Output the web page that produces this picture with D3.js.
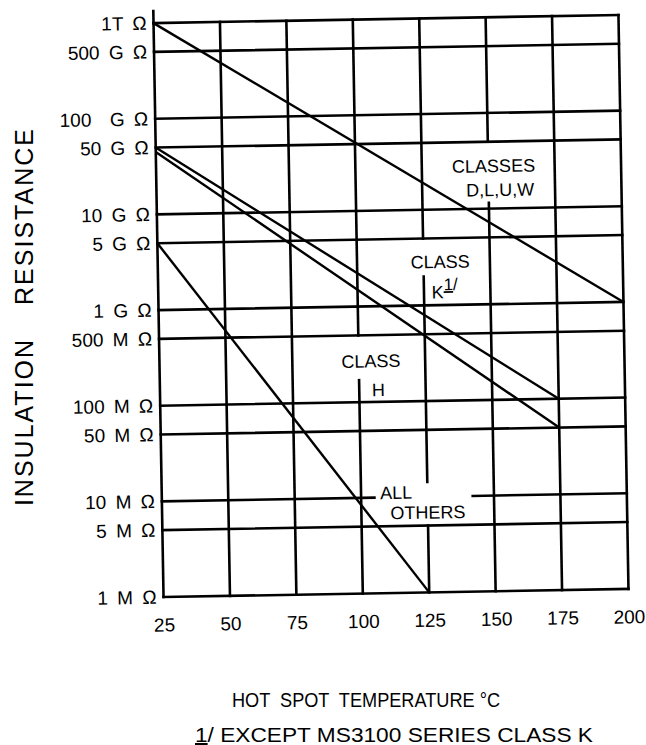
<!DOCTYPE html>
<html>
<head>
<meta charset="utf-8">
<script src="https://cdn.jsdelivr.net/npm/d3@7"></script>
<style>
  body { margin: 0; background: #fff; }
  text { font-family: "Liberation Sans", Arial, sans-serif; fill: #000; }
</style>
</head>
<body>
<script>
// chart values
var tempTicks = [25, 50, 75, 100, 125, 150, 175, 200];
var resTicks = [1e12, 5e11, 1e11, 5e10, 1e10, 5e9, 1e9, 5e8, 1e8, 5e7, 1e7, 5e6, 1e6];
var resTickLabels = ["1T Ω", "500 G Ω", "100  G Ω", "50 G Ω", "10 G Ω", "5 G Ω", "1 G Ω",
  "500 M Ω", "100 M Ω", "50 M Ω", "10 M Ω", "5 M Ω", "1 M Ω"];

// one straight line per class: start and end points
var lineClasses = ["D,L,U,W", "K", "H", "All others"];
var lineTempStart = [25, 25, 25, 25];
var lineTempEnd = [200, 175, 175, 125];
var lineResStart = [1e12, 5e10, 4.5e10, 5e9];
var lineResEnd = [1e9, 1e8, 5e7, 1e6];

// svg params
var svgWidth = 646;
var svgHeight = 745;
var margin = { top: 19, right: 22.5, bottom: 152, left: 158.5 };
var width = svgWidth - margin.left - margin.right;
var height = svgHeight - margin.top - margin.bottom;

var svg = d3.select("body")
  .append("svg")
  .attr("width", svgWidth)
  .attr("height", svgHeight);

// the scan is tilted about one degree
var chartGroup = svg.append("g")
  .attr("transform", `rotate(-1, 391, 306) translate(${margin.left}, ${margin.top})`);

var xScale = d3.scaleLinear().domain([25, 200]).range([0, width]);
var yScale = d3.scaleLog().domain([1e6, 1e12]).range([height, 0]);

// gaps in the grid where the labels sit
var vGaps = { 100: [[1.7e8, 5e8]], 125: [[2e9, 5e9], [5e6, 1.43e7]], 150: [[1.15e10, 5e10]] };
var hGaps = { 10000000: [[105, 142]] };

function cut(lo, hi, gaps) {
  var segs = [];
  var start = lo;
  (gaps || []).slice().sort((a, b) => a[0] - b[0]).forEach(function(g) {
    segs.push([start, g[0]]);
    start = g[1];
  });
  segs.push([start, hi]);
  return segs;
}

var grid = chartGroup.append("g")
  .attr("stroke", "#000")
  .attr("stroke-width", 2.6)
  .attr("stroke-linecap", "square");

// vertical grid lines
tempTicks.forEach(function(t) {
  cut(1e6, 1e12, vGaps[t]).forEach(function(s) {
    grid.append("line")
      .attr("x1", xScale(t)).attr("x2", xScale(t))
      .attr("y1", yScale(s[0])).attr("y2", yScale(s[1]));
  });
});
// left axis sticks out above the top
grid.append("line")
  .attr("x1", xScale(25)).attr("x2", xScale(25))
  .attr("y1", yScale(1e12) - 12).attr("y2", yScale(1e12));

// horizontal grid lines
resTicks.forEach(function(r) {
  cut(25, 200, hGaps[r]).forEach(function(s) {
    grid.append("line")
      .attr("x1", xScale(s[0])).attr("x2", xScale(s[1]))
      .attr("y1", yScale(r)).attr("y2", yScale(r));
  });
});

// class lines
chartGroup.append("g")
  .selectAll("line")
  .data(lineClasses)
  .enter()
  .append("line")
  .attr("x1", (d, i) => xScale(lineTempStart[i]))
  .attr("y1", (d, i) => yScale(lineResStart[i]))
  .attr("x2", (d, i) => xScale(lineTempEnd[i]))
  .attr("y2", (d, i) => yScale(lineResEnd[i]))
  .attr("stroke", "#000")
  .attr("stroke-width", 2.4);

// axes (labels only)
var leftAxis = d3.axisLeft(yScale)
  .tickValues(resTicks)
  .tickFormat((d, i) => resTickLabels[i])
  .tickSize(0)
  .tickPadding(7);

var bottomAxis = d3.axisBottom(xScale)
  .tickValues(tempTicks)
  .tickFormat(d3.format("d"))
  .tickSize(0)
  .tickPadding(21);

var yAxisG = chartGroup.append("g").call(leftAxis);
yAxisG.select(".domain").remove();
yAxisG.selectAll("text")
  .style("font-family", "'Liberation Sans', Arial, sans-serif")
  .style("font-size", "19px")
  .style("white-space", "pre")
  .style("word-spacing", "4px");

var xAxisG = chartGroup.append("g")
  .attr("transform", `translate(0, ${height})`)
  .call(bottomAxis);
xAxisG.select(".domain").remove();
xAxisG.selectAll("text")
  .style("font-family", "'Liberation Sans', Arial, sans-serif")
  .style("font-size", "19px");

// class labels inside the grid
var notes = [
  { text: "CLASSES", t: 152, r: 2.4e10, anchor: "middle" },
  { text: "D,L,U,W", t: 154.3, r: 1.35e10, anchor: "middle" },
  { text: "CLASS", t: 131.3, r: 2.44e9, anchor: "middle" },
  { text: "K", t: 127.9, r: 1.18e9, anchor: "start" },
  { text: "CLASS", t: 104.6, r: 2.3e8, anchor: "middle" },
  { text: "H", t: 107.2, r: 1.15e8, anchor: "middle" },
  { text: "ALL", t: 113.2, r: 9.6e6, anchor: "middle" },
  { text: "OTHERS", t: 125, r: 5.9e6, anchor: "middle" }
];

chartGroup.append("g")
  .selectAll("text")
  .data(notes)
  .enter()
  .append("text")
  .attr("x", d => xScale(d.t))
  .attr("y", d => yScale(d.r))
  .attr("text-anchor", d => d.anchor)
  .style("font-size", "18px")
  .text(d => d.text);

// footnote mark after K
var mark = chartGroup.append("text")
  .attr("x", xScale(127.9) + 12)
  .attr("y", yScale(1.18e9) - 8)
  .style("font-size", "17px");
mark.append("tspan").style("text-decoration", "underline").text("1");
mark.append("tspan").text("/");

// axis titles
svg.append("text")
  .attr("transform", "translate(33, 216) rotate(-90)")
  .attr("text-anchor", "middle")
  .style("font-size", "25px")
  .style("letter-spacing", "2px")
  .text("RESISTANCE");

svg.append("text")
  .attr("transform", "translate(33, 422) rotate(-90)")
  .attr("text-anchor", "middle")
  .style("font-size", "25px")
  .style("letter-spacing", "2px")
  .text("INSULATION");

svg.append("text")
  .attr("x", 232)
  .attr("y", 707)
  .attr("textLength", 268)
  .attr("lengthAdjust", "spacingAndGlyphs")
  .style("font-size", "20px")
  .style("white-space", "pre")
  .text("HOT  SPOT  TEMPERATURE °C");

var foot = svg.append("text")
  .attr("x", 195)
  .attr("y", 742)
  .attr("textLength", 398)
  .attr("lengthAdjust", "spacingAndGlyphs")
  .style("font-size", "20px");
foot.append("tspan").style("text-decoration", "underline").text("1");
foot.append("tspan").text("/ EXCEPT MS3100 SERIES CLASS K");
</script>
</body>
</html>
